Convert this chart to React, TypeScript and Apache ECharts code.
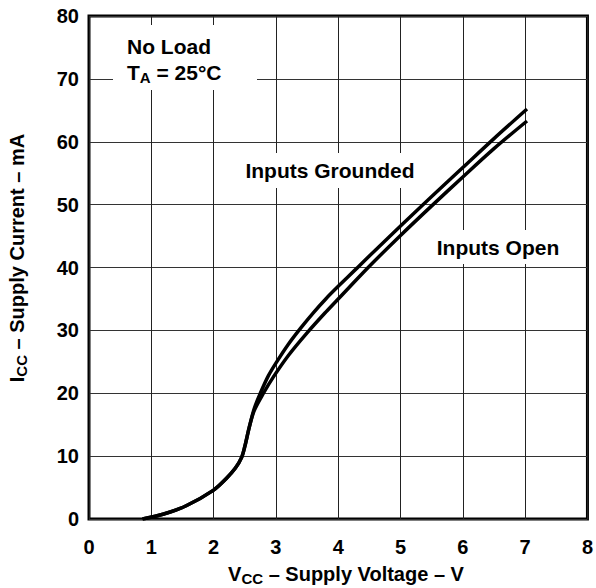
import React, { useEffect, useRef } from "react";
import * as echarts from "echarts";

const xTicks = [0, 1, 2, 3, 4, 5, 6, 7, 8];
const yTicks = [0, 10, 20, 30, 40, 50, 60, 70, 80];

const groundedV = [0.86, 1.2, 1.56, 2.0, 2.2, 2.35, 2.45, 2.5, 2.57, 2.65, 2.75, 2.88, 3.0, 3.2, 3.4, 3.6, 3.8, 4.0, 4.3, 4.6, 5.0, 5.5, 6.0, 6.5, 7.03];
const groundedI = [0, 0.8, 2.1, 4.6, 6.4, 8.1, 9.8, 11.5, 14.5, 17.5, 20, 22.8, 24.8, 27.8, 30.4, 32.8, 35.0, 37.0, 39.9, 42.8, 46.6, 51.3, 55.9, 60.5, 65.2];

const openV = [0.86, 1.2, 1.56, 2.0, 2.2, 2.35, 2.45, 2.5, 2.57, 2.65, 2.8, 2.96, 3.2, 3.5, 3.8, 4.0, 4.5, 5.0, 5.5, 6.0, 6.5, 7.03];
const openI = [0, 0.8, 2.1, 4.6, 6.4, 8.1, 9.8, 11.5, 14.5, 17.2, 20, 22.6, 26.0, 29.6, 32.9, 35.0, 40.2, 45.1, 49.8, 54.4, 58.9, 63.3];

const FONT = "'Liberation Sans', Arial, Helvetica, sans-serif";

export default function App() {
  const ref = useRef<HTMLDivElement>(null);
  useEffect(() => {
    if (!ref.current) return;
    const chart = echarts.init(ref.current, undefined, { renderer: "svg" });
    const pair = (xs: number[], ys: number[]) => xs.map((x, i) => [x, ys[i]]);
    const lineSeries = (name: string, data: number[][]) => ({
      name,
      type: "line",
      data,
      smooth: 0.3,
      showSymbol: false,
      symbol: "none",
      lineStyle: { color: "#000", width: 3.5 },
      z: 3,
    });
    const rich = {
      v: { fontSize: 20, fontWeight: "bold", fontFamily: FONT, fill: "#000", lineHeight: 24 },
      s: { fontSize: 15, fontWeight: "bold", fontFamily: FONT, fill: "#000", lineHeight: 14, verticalAlign: "bottom" },
    };
    chart.setOption({
      animation: false,
      backgroundColor: "#fff",
      grid: {
        left: 89,
        right: 4,
        top: 16,
        bottom: 69,
        show: true,
        borderColor: "#000",
        borderWidth: 3,
        backgroundColor: "transparent",
      },
      xAxis: {
        type: "value",
        min: xTicks[0],
        max: xTicks[xTicks.length - 1],
        interval: 1,
        axisLine: { show: false },
        axisTick: { show: false },
        splitLine: { show: true, lineStyle: { color: "#222", width: 1 } },
        axisLabel: {
          margin: 18,
          color: "#000",
          fontSize: 20,
          fontWeight: "bold",
          fontFamily: FONT,
          showMaxLabel: true,
          showMinLabel: true,
        },
      },
      yAxis: {
        type: "value",
        min: yTicks[0],
        max: yTicks[yTicks.length - 1],
        interval: 10,
        axisLine: { show: false },
        axisTick: { show: false },
        splitLine: { show: true, lineStyle: { color: "#333", width: 1.2 } },
        axisLabel: {
          margin: 10,
          color: "#000",
          fontSize: 20,
          fontWeight: "bold",
          fontFamily: FONT,
        },
      },
      series: [
        lineSeries("Inputs Grounded", pair(groundedV, groundedI)),
        lineSeries("Inputs Open", pair(openV, openI)),
      ],
      graphic: [
        { type: "rect", z: 10, shape: { x: 113, y: 25, width: 144, height: 65 }, style: { fill: "#fff" } },
        {
          type: "text",
          z: 11,
          x: 127,
          y: 33,
          style: {
            text: "{b|No Load}\n{b|T}{s|A}{b| = 25°C}",
            rich: {
              b: { fontSize: 21, fontWeight: "bold", fontFamily: FONT, fill: "#000", lineHeight: 26 },
              s: { fontSize: 15, fontWeight: "bold", fontFamily: FONT, fill: "#000", lineHeight: 14, verticalAlign: "bottom" },
            },
          },
        },
        { type: "rect", z: 10, shape: { x: 238, y: 153, width: 184, height: 35 }, style: { fill: "#fff" } },
        {
          type: "text",
          z: 11,
          x: 330,
          y: 170,
          style: {
            text: "Inputs Grounded",
            fontSize: 21,
            fontWeight: "bold",
            fontFamily: FONT,
            fill: "#000",
            align: "center",
            verticalAlign: "middle",
          },
        },
        { type: "rect", z: 10, shape: { x: 430, y: 230, width: 138, height: 34 }, style: { fill: "#fff" } },
        {
          type: "text",
          z: 11,
          x: 498,
          y: 247,
          style: {
            text: "Inputs Open",
            fontSize: 21,
            fontWeight: "bold",
            fontFamily: FONT,
            fill: "#000",
            align: "center",
            verticalAlign: "middle",
          },
        },
        {
          type: "text",
          z: 11,
          x: 346,
          y: 574,
          style: {
            text: "{v|V}{s|CC}{v| – Supply Voltage – V}",
            align: "center",
            verticalAlign: "middle",
            rich,
          },
        },
        {
          type: "text",
          z: 11,
          x: 17,
          y: 258,
          rotation: Math.PI / 2,
          style: {
            text: "{v|I}{s|CC}{v| – Supply Current – mA}",
            align: "center",
            verticalAlign: "middle",
            rich,
          },
        },
      ],
    });
    return () => chart.dispose();
  }, []);
  return (
    <div
      ref={ref}
      style={{ position: "fixed", left: 0, top: 0, width: 596, height: 588, background: "#fff" }}
    />
  );
}
